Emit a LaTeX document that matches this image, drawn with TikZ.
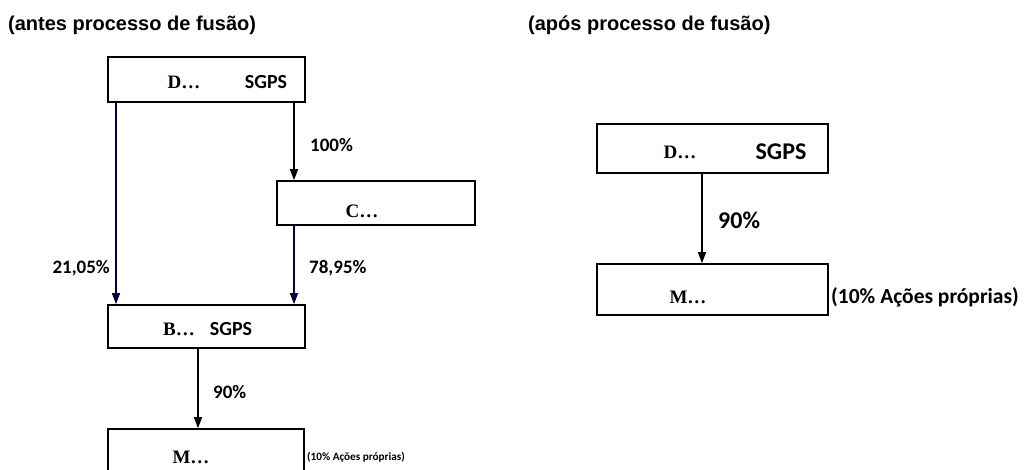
\documentclass[tikz,border=0pt]{standalone}
\usepackage{fontspec}
\setmainfont{Liberation Serif}
\newfontfamily\calibfont{Carlito}
\newfontfamily\titlefont{Liberation Sans}
\usetikzlibrary{arrows.meta}

\begin{document}
\begin{tikzpicture}[x = 1pt, y = -1pt]
	\tikzstyle{boxStyle} = [draw, line width = 1.7pt, inner sep = 0pt]
	\tikzstyle{nameStyle} = [inner sep = 0pt, font = \fontsize{19}{19}\selectfont\bfseries]
	\tikzstyle{sgpsStyle} = [inner sep = 0pt, font = \fontsize{20}{20}\selectfont\calibfont\bfseries]
	\tikzstyle{pctStyle} = [inner sep = 0pt, anchor = west, font = \fontsize{19}{19}\selectfont\calibfont\bfseries]
	\tikzstyle{linkStyle} = [line width = 1.3pt, -{Triangle[length = 11pt, width = 8pt]}]
	\clip (0, 0) rectangle (1024, 470);
	\fill[white] (0, 0) rectangle (1024, 470);
	% titles
	\node[inner sep = 0pt, anchor = west, font = \fontsize{20}{20}\selectfont\titlefont\bfseries] (tAntes) at (8, 25) {(antes processo de fusão)};
	\node[inner sep = 0pt, anchor = west, font = \fontsize{20}{20}\selectfont\titlefont\bfseries] (tApos) at (528, 25) {(após processo de fusão)};
	% before
	\node[boxStyle, minimum width = 197pt, minimum height = 45pt] (dA) at (206.5, 79.5) {};
	\node[boxStyle, minimum width = 198pt, minimum height = 44pt] (cA) at (376, 203) {};
	\node[boxStyle, minimum width = 197pt, minimum height = 43pt] (bA) at (206.5, 326.5) {};
	\node[boxStyle, minimum width = 196pt, minimum height = 46pt] (mA) at (206, 452) {};
	\node[nameStyle] (dAname) at (184, 82) {D\ldots};
	\node[sgpsStyle] (dAsgps) at (266, 82) {SGPS};
	\node[nameStyle] (cAname) at (362, 211) {C\ldots};
	\node[nameStyle] (bAname) at (179, 329) {B\ldots};
	\node[sgpsStyle] (bAsgps) at (231, 329) {SGPS};
	\node[nameStyle] (mAname) at (191, 457) {M\ldots};
	\node[inner sep = 0pt, anchor = west, font = \fontsize{11.2}{11.2}\selectfont\calibfont\bfseries] (mAown) at (307, 457) {(10\% Ações próprias)};
	\coordinate (xL) at (116, 0);
	\coordinate (xR) at (294, 0);
	\coordinate (xM) at (198, 0);
	\draw[linkStyle, draw = black!70!blue!80!black] (dA.south -| xL) -- (bA.north -| xL);
	\draw[linkStyle] (dA.south -| xR) -- (cA.north -| xR);
	\draw[linkStyle, draw = black!70!blue!80!black] (cA.south -| xR) -- (bA.north -| xR);
	\draw[linkStyle] (bA.south -| xM) -- (mA.north -| xM);
	\node[pctStyle] (p100) at (310, 145) {100\%};
	\node[pctStyle, anchor = east] (p2105) at (110, 268) {21,05\%};
	\node[pctStyle] (p7895) at (309, 268) {78,95\%};
	\node[pctStyle] (p90A) at (213, 392) {90\%};
	% after
	\node[boxStyle, minimum width = 231pt, minimum height = 49pt] (dB) at (712.5, 148.5) {};
	\node[boxStyle, minimum width = 231pt, minimum height = 51pt] (mB) at (712.5, 289.5) {};
	\node[nameStyle] (dBname) at (680, 152) {D\ldots};
	\node[sgpsStyle, font = \fontsize{24}{24}\selectfont\calibfont\bfseries] (dBsgps) at (781, 152) {SGPS};
	\node[nameStyle] (mBname) at (688, 297) {M\ldots};
	\node[inner sep = 0pt, anchor = west, font = \fontsize{21.5}{21.5}\selectfont\calibfont\bfseries] (mBown) at (831, 297) {(10\% Ações próprias)};
	\coordinate (xB) at (702, 0);
	\draw[linkStyle] (dB.south -| xB) -- (mB.north -| xB);
	\node[pctStyle, font = \fontsize{24}{24}\selectfont\calibfont\bfseries] (p90B) at (718, 220) {90\%};
\end{tikzpicture}
\end{document}
